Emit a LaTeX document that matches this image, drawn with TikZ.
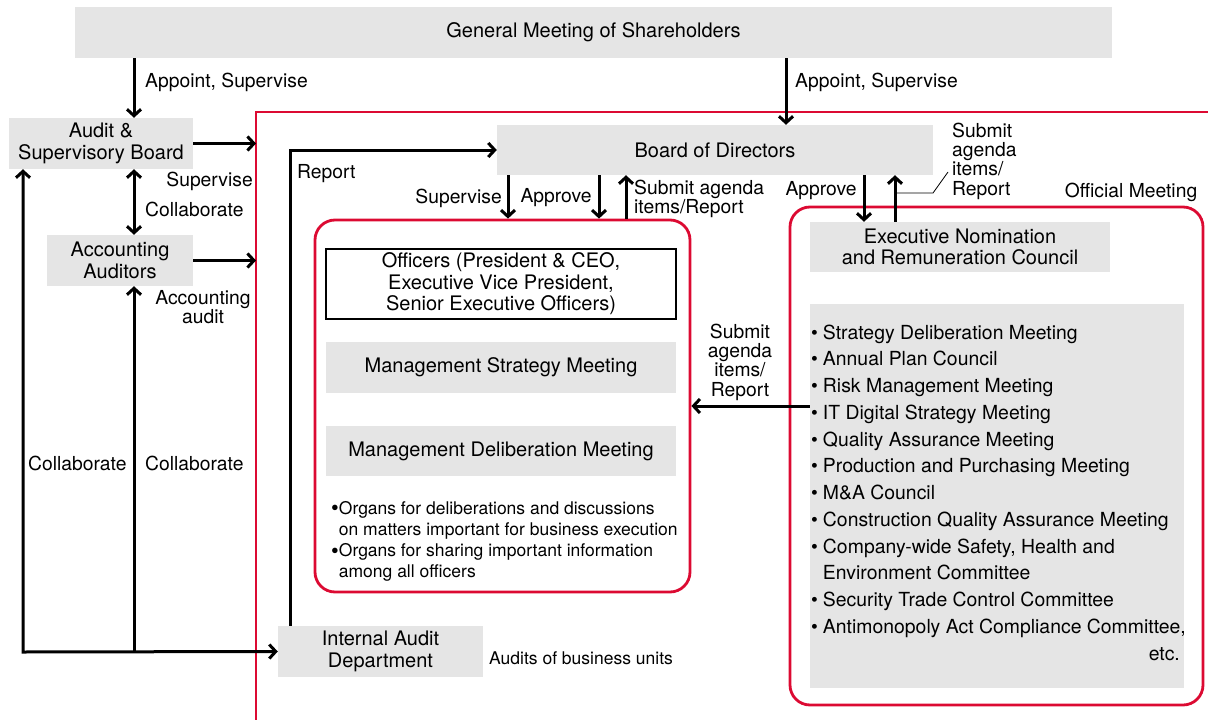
\documentclass[tikz,border=0pt]{standalone}
\usepackage{fontspec}
\setmainfont{TeX Gyre Heros}
\usetikzlibrary{arrows.meta}
\definecolor{boxgray}{HTML}{E5E5E5}
\definecolor{framered}{HTML}{DC0A32}
\newcommand{\bigbul}{\raisebox{-1.5pt}{\fontsize{22}{21}\selectfont\textbullet}}
\begin{document}
\begin{tikzpicture}[x=1pt,y=-1pt,
    gbox/.style={fill=boxgray, inner sep=0pt, align=center, font=\fontsize{20}{21.5}\selectfont},
    lbl/.style={inner sep=0pt, align=left, font=\fontsize{19.3}{19.3}\selectfont},
    arr/.style={line width=3pt, -{Straight Barb[length=6.5pt,width=14pt]}},
    dbl/.style={line width=3pt, {Straight Barb[length=6.5pt,width=14pt]}-{Straight Barb[length=6.5pt,width=14pt]}},
    redbox/.style={draw=framered, line width=2.8pt, rounded corners=20pt, inner sep=0pt}]
    \useasboundingbox (0,0) rectangle (1208,720);

    % Outer frame
    \coordinate (fr) at (256,112);
    \draw[framered, line width=2.8pt] (fr |- 0,730) -- (fr) -- (1215,112);

    % Boxes
    \node[gbox, minimum width=1037pt, minimum height=51pt] (gm) at (593.5,32.5) {General Meeting of Shareholders};
    \node[gbox, minimum width=184pt, minimum height=51pt] (asb) at (101,143.5) {Audit \&\\Supervisory Board};
    \node[gbox, minimum width=146pt, minimum height=51pt] (aa) at (120,260.5) {Accounting\\Auditors};
    \node[gbox, minimum width=436pt, minimum height=50pt] (bod) at (715,150) {Board of Directors};
    \node[gbox, minimum width=205pt, minimum height=51pt] (ia) at (380.5,651.5) {Internal Audit\\Department};

    % Officers group
    \node[redbox, minimum width=375pt, minimum height=372pt] (og) at (502.5,406) {};
    \node[draw, line width=1.3pt, inner sep=0pt, minimum width=350pt, minimum height=70pt, align=center, font=\fontsize{20}{21.5}\selectfont] (off) at (501,284) {Officers (President \& CEO,\\Executive Vice President,\\Senior Executive Officers)};
    \node[gbox, minimum width=350pt, minimum height=51pt] (msm) at (501,367.5) {Management Strategy Meeting};
    \node[gbox, minimum width=350pt, minimum height=50pt] (mdm) at (501,451) {Management Deliberation Meeting};
    \node[anchor=base west, inner sep=0pt, font=\fontsize{17.5}{21.3}\selectfont] (org) at (331,514) {%
        \begin{tabular}[t]{@{}l@{}l@{}}
        \bigbul & Organs for deliberations and discussions\\
        & on matters important for business execution\\
        \bigbul & Organs for sharing important information\\
        & among all officers
        \end{tabular}};

    % Official meeting group
    \node[redbox, minimum width=413pt, minimum height=498pt] (om) at (996.5,456) {};
    \node[gbox, minimum width=300pt, minimum height=50pt] (enrc) at (960,247) {Executive Nomination\\and Remuneration Council};
    \node[gbox, minimum width=374pt, minimum height=384pt] (lst) at (997,496) {};
    \node[anchor=base west, inner sep=0pt, font=\fontsize{19.4}{26.75}\selectfont] (lsttxt) at (811,339) {%
        \begin{tabular}[t]{@{}l@{\hspace{5pt}}l@{}}
        \textbullet & Strategy Deliberation Meeting\\
        \textbullet & Annual Plan Council\\
        \textbullet & Risk Management Meeting\\
        \textbullet & IT Digital Strategy Meeting\\
        \textbullet & Quality Assurance Meeting\\
        \textbullet & Production and Purchasing Meeting\\
        \textbullet & M\&A Council\\
        \textbullet & Construction Quality Assurance Meeting\\
        \textbullet & Company-wide Safety, Health and\\
        & Environment Committee\\
        \textbullet & Security Trade Control Committee\\
        \textbullet & Antimonopoly Act Compliance Committee,\\
        \multicolumn{2}{r}{etc.}
        \end{tabular}};

    % Arrow positions
    \coordinate (jL) at (23,652);
    \coordinate (jM) at (134,652);
    \coordinate (xG) at (786,0);
    \coordinate (xR) at (290,0);
    \coordinate (xS) at (508,0);
    \coordinate (xA) at (599,0);
    \coordinate (xU) at (626,0);
    \coordinate (xE1) at (864,0);
    \coordinate (xE2) at (895,0);

    % Connectors
    \draw[arr] (gm.south -| jM) -- (asb.north -| jM);
    \draw[arr] (gm.south -| xG) -- (xG |- bod.north);
    \draw[arr] (asb.east) -- (asb.east -| fr);
    \draw[arr] (aa.east) -- (aa.east -| fr);
    \draw[dbl] (asb.south -| jM) -- (aa.north -| jM);
    \draw[dbl] (asb.south -| jL) -- (jL) -- (ia.west);
    \draw[arr] (jM) -- (aa.south -| jM);
    \draw[arr] (xR |- ia.north) |- (bod.west);
    \draw[arr] (xS |- bod.south) -- (xS |- og.north);
    \draw[arr] (xA |- bod.south) -- (xA |- og.north);
    \draw[arr] (xU |- og.north) -- (xU |- bod.south);
    \draw[arr] (xE1 |- bod.south) -- (xE1 |- enrc.north);
    \draw[arr] (xE2 |- enrc.north) -- (xE2 |- bod.south);
    \draw[arr] (lst.west |- og.east) -- (og.east);
    \coordinate (ld1) at (933,193);
    \coordinate (ld2) at (948,172);
    \draw[line width=0.8pt] (xE2 |- ld1) -- (ld1) -- (ld2);

    % Labels
    \node[lbl, anchor=west] (l1) at (145,82) {Appoint, Supervise};
    \node[lbl, anchor=west] (l2) at (795,82) {Appoint, Supervise};
    \node[lbl, anchor=east] (l3) at (253,181) {Supervise};
    \node[lbl, anchor=west] (l4) at (145,209) {Collaborate};
    \node[lbl, align=center, font=\fontsize{19.3}{18}\selectfont] (l5) at (203,307) {Accounting\\audit};
    \node[lbl, anchor=west] (l6) at (28,463) {Collaborate};
    \node[lbl, anchor=west] (l7) at (145,463) {Collaborate};
    \node[lbl, anchor=west] (l8) at (297,174) {Report};
    \node[lbl, anchor=west, font=\fontsize{17.5}{19}\selectfont] (l9) at (489,658) {Audits of business units};
    \node[lbl, anchor=east] (l10) at (502,198) {Supervise};
    \node[lbl] (l11) at (556,198) {Approve};
    \node[lbl, anchor=west, font=\fontsize{19.3}{18}\selectfont] (l12) at (634,199) {Submit agenda\\items/Report};
    \node[lbl, align=center] (l13) at (740,362) {Submit\\agenda\\items/\\Report};
    \node[lbl] (l14) at (821,191) {Approve};
    \node[lbl, anchor=west] (l15) at (952,161) {Submit\\agenda\\items/\\Report};
    \node[lbl] (l16) at (1131,192) {Official Meeting};
\end{tikzpicture}
\end{document}
